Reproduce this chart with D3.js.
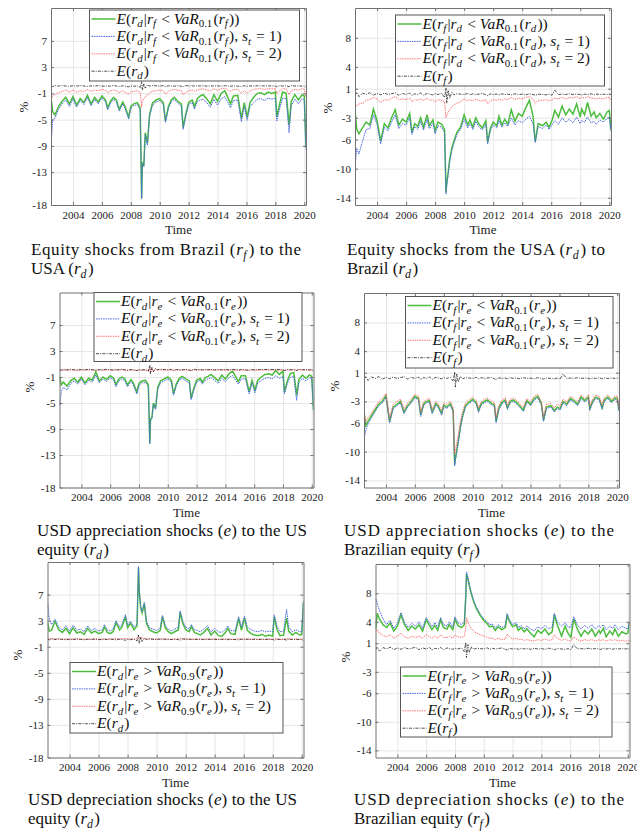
<!DOCTYPE html>
<html>
<head>
<meta charset="utf-8">
<script src="https://cdnjs.cloudflare.com/ajax/libs/d3/7.8.5/d3.min.js"></script>
<style>
  body { margin: 0; background: #fff; }
  svg { display: block; }
  text { font-family: "Liberation Serif", "DejaVu Serif", serif; }
</style>
</head>
<body>
<script>
// sampling dates (decimal years), shared by every series
const dates = [
  2002.50, 2002.60, 2002.75, 2003.00, 2003.25, 2003.50, 2003.75, 2004.00, 2004.25, 2004.50,
  2004.75, 2005.00, 2005.25, 2005.50, 2005.75, 2006.00, 2006.25, 2006.40, 2006.60, 2006.80,
  2007.00, 2007.20, 2007.45, 2007.60, 2007.85, 2008.00, 2008.20, 2008.45, 2008.65, 2008.75,
  2008.80, 2008.90, 2009.00, 2009.15, 2009.30, 2009.50, 2009.75, 2010.00, 2010.25, 2010.40,
  2010.60, 2010.80, 2011.00, 2011.25, 2011.50, 2011.62, 2011.80, 2012.00, 2012.25, 2012.40,
  2012.60, 2012.80, 2013.00, 2013.25, 2013.50, 2013.75, 2014.00, 2014.25, 2014.50, 2014.75,
  2014.90, 2015.10, 2015.40, 2015.65, 2015.85, 2016.05, 2016.25, 2016.50, 2016.75, 2017.00,
  2017.25, 2017.50, 2017.75, 2018.00, 2018.10, 2018.30, 2018.50, 2018.75, 2018.95, 2019.10,
  2019.35, 2019.60, 2019.85, 2020.00, 2020.12
]

// unconditional means E(r_d) (US) and E(r_f) (Brazil)
const usMean = [
  0.15, 0.05, 0.20, 0.10, 0.18, 0.12, 0.08, 0.15, 0.10, 0.20,
  0.12, 0.06, 0.14, 0.10, 0.18, 0.12, 0.08, 0.16, 0.10, 0.20,
  0.12, 0.05, 0.15, 0.10, 0.00, 0.12, 0.08, 0.15, -0.10, 0.80,
  -0.50, 0.50, -0.20, 0.30, 0.10, 0.20, 0.15, 0.10, 0.18, 0.05,
  0.15, 0.12, 0.10, 0.16, 0.08, 0.00, 0.20, 0.12, 0.15, 0.10,
  0.14, 0.12, 0.16, 0.10, 0.14, 0.12, 0.15, 0.10, 0.16, 0.12,
  0.08, 0.14, 0.10, 0.05, 0.15, 0.08, 0.14, 0.12, 0.16, 0.12,
  0.15, 0.13, 0.14, 0.12, 0.00, 0.15, 0.12, 0.16, 0.02, 0.18,
  0.12, 0.15, 0.10, 0.14, -0.10
]
const brMean = [
  0.10, 0.50, -0.10, 0.40, 0.20, 0.45, 0.10, 0.35, 0.15, 0.40,
  0.20, 0.30, 0.45, 0.10, 0.35, 0.20, 0.40, 0.05, 0.30, 0.20,
  0.40, 0.10, 0.35, 0.25, 0.15, 0.30, 0.20, 0.35, -0.20, 1.10,
  -1.00, 0.80, -0.30, 0.50, 0.15, 0.30, 0.25, 0.20, 0.35, 0.15,
  0.30, 0.20, 0.25, 0.35, 0.15, 0.05, 0.30, 0.20, 0.25, 0.15,
  0.30, 0.20, 0.25, 0.15, 0.30, 0.20, 0.25, 0.15, 0.30, 0.20,
  0.10, 0.25, 0.20, 0.15, 0.25, 0.10, 0.80, 0.20, 0.25, 0.20,
  0.30, 0.20, 0.25, 0.20, 0.15, 0.25, 0.20, 0.30, 0.15, 0.25,
  0.20, 0.25, 0.20, 0.25, 0.20
]

// panel 1: Brazil equity shock -> US equity
const p1All = [
  -2.0, -3.8, -4.3, -3.0, -2.2, -1.6, -2.6, -1.5, -2.8, -1.8,
  -2.4, -1.3, -2.6, -1.6, -2.3, -1.4, -2.0, -3.2, -2.2, -1.6,
  -2.0, -3.4, -2.3, -3.0, -4.6, -3.0, -2.6, -2.4, -3.2, -17.0,
  -11.5, -12.0, -7.0, -8.6, -4.2, -2.5, -2.0, -1.8, -2.4, -5.2,
  -3.0, -2.0, -1.6, -2.2, -2.6, -6.2, -4.2, -2.4, -2.0, -3.0,
  -1.8, -1.4, -1.2, -1.8, -2.6, -1.2, -2.2, -1.0, -0.6, -1.8,
  -2.6, -1.4, -1.3, -4.8, -2.4, -4.6, -2.4, -1.6, -1.0, -0.9,
  -1.2, -0.8, -1.0, -0.8, -4.6, -2.6, -0.8, -1.0, -5.8, -2.2,
  -1.2, -2.0, -1.2, -1.4, -9.2
]
const p1S1 = [
  -8.4, -5.0, -4.8, -3.4, -2.6, -2.0, -3.0, -1.8, -3.1, -2.1,
  -2.7, -1.6, -2.9, -1.9, -2.6, -1.7, -2.3, -3.5, -2.5, -1.9,
  -2.3, -3.7, -2.6, -3.3, -4.9, -3.3, -2.9, -2.7, -3.5, -17.0,
  -11.8, -12.2, -7.3, -8.9, -4.5, -2.8, -2.3, -2.1, -2.7, -5.4,
  -3.3, -2.3, -1.9, -2.5, -2.9, -6.5, -4.5, -2.7, -2.4, -3.4,
  -2.3, -2.0, -1.9, -2.4, -3.1, -1.9, -2.8, -1.8, -1.5, -2.5,
  -3.2, -2.1, -2.0, -5.3, -3.0, -5.1, -3.0, -2.4, -1.9, -1.8,
  -2.1, -1.7, -1.9, -1.7, -5.2, -3.3, -1.7, -1.8, -7.0, -2.9,
  -1.9, -2.6, -1.8, -2.0, -9.6
]
const p1S2 = [
  -1.8, -1.4, -1.2, -0.9, -0.7, -0.5, -0.8, -0.5, -0.8, -0.6,
  -0.7, -0.4, -0.7, -0.5, -0.6, -0.4, -0.5, -0.9, -0.6, -0.5,
  -0.6, -0.9, -0.6, -0.8, -1.1, -0.8, -0.7, -0.6, -0.8, -3.1,
  -2.2, -1.8, -1.5, -1.3, -0.9, -0.7, -0.6, -0.5, -0.6, -1.1,
  -0.7, -0.5, -0.4, -0.5, -0.6, -1.2, -0.9, -0.6, -0.5, -0.7,
  -0.5, -0.4, -0.3, -0.5, -0.6, -0.3, -0.5, -0.3, -0.2, -0.5,
  -0.7, -0.4, -0.4, -1.0, -0.6, -1.0, -0.6, -0.4, -0.3, -0.3,
  -0.4, -0.3, -0.3, -0.3, -1.0, -0.6, -0.3, -0.3, -1.2, -0.6,
  -0.4, -0.5, -0.3, -0.4, -1.6
]

// panel 2: US equity shock -> Brazil equity
const p2All = [
  -2.4, -4.6, -5.2, -4.4, -3.6, -4.0, -1.8, -3.4, -6.2, -3.8,
  -4.4, -3.0, -1.9, -4.0, -3.2, -3.6, -2.4, -5.0, -3.8, -4.2,
  -3.0, -4.3, -2.6, -4.1, -3.3, -4.8, -3.6, -3.9, -4.6, -13.2,
  -12.0, -10.5, -8.8, -7.2, -6.2, -5.0, -4.3, -2.6, -4.0, -3.3,
  -4.3, -3.0, -3.8, -4.4, -3.4, -6.4, -4.5, -3.6, -4.1, -2.8,
  -4.0, -3.2, -3.9, -1.9, -3.5, -2.4, -2.8, -1.6, -0.6, -2.8,
  -6.3, -3.8, -4.1, -3.6, -4.3, -3.4, -2.0, -2.9, -1.4, -2.6,
  -1.8, -2.5, -1.1, -2.9, -1.8, -2.6, -0.9, -2.8, -2.2, -3.0,
  -2.4, -3.2, -2.2, -2.0, -4.6
]
const p2S1 = [
  -9.4, -7.2, -8.0, -6.2, -4.6, -4.5, -2.6, -3.9, -6.6, -4.3,
  -4.8, -3.6, -2.6, -4.5, -3.8, -4.0, -3.0, -5.3, -4.2, -4.6,
  -3.5, -4.7, -3.2, -4.5, -3.8, -5.2, -4.1, -4.3, -5.0, -13.5,
  -12.3, -10.8, -9.1, -7.5, -6.5, -5.3, -4.6, -3.2, -4.4, -3.8,
  -4.6, -3.5, -4.2, -4.7, -3.9, -6.6, -4.8, -4.0, -4.4, -3.4,
  -4.3, -3.7, -4.2, -3.0, -4.0, -3.4, -3.7, -3.2, -2.8, -3.8,
  -6.4, -4.2, -4.5, -4.0, -4.6, -4.0, -3.4, -3.9, -3.0, -3.6,
  -3.2, -3.7, -2.9, -3.8, -3.4, -3.6, -2.9, -3.7, -3.5, -3.9,
  -3.3, -3.6, -3.1, -2.9, -4.8
]
const p2S2 = [
  -1.6, -1.3, -1.1, -1.0, -0.6, -0.5, -0.2, -0.4, -0.9, -0.5,
  -0.6, -0.3, -0.1, -0.5, -0.4, -0.5, -0.3, -0.8, -0.5, -0.6,
  -0.4, -0.6, -0.3, -0.6, -0.5, -0.8, -0.5, -0.6, -0.8, -3.0,
  -2.7, -2.3, -1.9, -1.5, -1.2, -1.0, -0.8, -0.4, -0.7, -0.5,
  -0.7, -0.4, -0.6, -0.7, -0.5, -1.1, -0.7, -0.5, -0.6, -0.4,
  -0.6, -0.4, -0.5, -0.2, -0.5, -0.3, -0.4, -0.2, -0.1, -0.4,
  -1.0, -0.6, -0.6, -0.5, -0.7, -0.5, -0.3, -0.4, -0.2, -0.4,
  -0.2, -0.3, -0.1, -0.4, -0.2, -0.3, -0.1, -0.3, -0.3, -0.4,
  -0.3, -0.4, -0.2, -0.2, -0.6
]

// panel 3: USD appreciation -> US equity
const p3All = [
  -1.0, -2.2, -1.8, -2.4, -1.6, -1.2, -1.8, -1.0, -1.9, -1.2,
  -1.5, -0.2, -1.6, -1.0, -1.4, -0.8, -1.2, -2.2, -1.3, -1.0,
  -1.2, -2.2, -1.4, -1.9, -3.3, -2.0, -1.6, -1.5, -2.2, -11.2,
  -7.5, -7.2, -5.0, -5.8, -2.6, -1.6, -1.3, -1.0, -1.5, -3.6,
  -2.0, -1.2, -0.9, -1.3, -1.6, -4.3, -2.8, -1.5, -1.2, -1.8,
  -1.1, -0.9, -0.6, -1.1, -1.6, -0.7, -1.3, -0.5, -0.1, -1.1,
  -1.7, -0.8, -0.8, -3.3, -1.5, -3.0, -1.5, -1.0, -0.6, -0.5,
  -0.7, 0.0, -0.6, -0.1, -3.3, -1.6, -0.5, -0.3, -3.8, -1.4,
  -0.7, -1.2, -0.7, -0.9, -6.0
]
const p3S1 = [
  -5.4, -3.2, -2.6, -3.0, -2.0, -1.6, -2.1, -1.3, -2.2, -1.5,
  -1.8, -0.7, -1.9, -1.3, -1.7, -1.1, -1.5, -2.5, -1.6, -1.3,
  -1.5, -2.5, -1.7, -2.2, -3.6, -2.3, -1.9, -1.8, -2.5, -11.3,
  -7.7, -7.4, -5.2, -6.0, -2.9, -1.9, -1.6, -1.3, -1.8, -3.8,
  -2.3, -1.5, -1.2, -1.6, -1.9, -4.5, -3.1, -1.8, -1.5, -2.1,
  -1.5, -1.3, -1.1, -1.5, -2.0, -1.2, -1.7, -1.1, -0.8, -1.6,
  -2.1, -1.3, -1.3, -3.6, -1.9, -3.4, -1.9, -1.5, -1.2, -1.1,
  -1.3, -0.8, -1.2, -0.9, -3.6, -2.0, -1.1, -0.9, -4.6, -1.9,
  -1.2, -1.6, -1.1, -1.2, -6.3
]
const p3S2 = [
  0.00, 0.05, 0.00, 0.05, 0.08, 0.05, 0.02, 0.08, 0.05, 0.10,
  0.06, 0.02, 0.07, 0.05, 0.08, 0.06, 0.04, 0.08, 0.05, 0.10,
  0.06, 0.02, 0.07, 0.05, 0.00, 0.06, 0.04, 0.07, -0.05, 0.50,
  -0.30, 0.30, -0.10, 0.20, 0.05, 0.10, 0.07, 0.05, 0.08, 0.02,
  0.07, 0.06, 0.05, 0.08, 0.04, 0.00, 0.10, 0.06, 0.07, 0.05,
  0.07, 0.06, 0.08, 0.05, 0.07, 0.06, 0.07, 0.05, 0.08, 0.06,
  0.04, 0.07, 0.05, 0.02, 0.07, 0.04, 0.07, 0.06, 0.08, 0.06,
  0.07, 0.06, 0.07, 0.06, 0.00, 0.07, 0.06, 0.08, 0.01, 0.09,
  0.06, 0.07, 0.05, 0.07, -0.05
]

// panel 4: USD appreciation -> Brazil equity
const p4All = [
  -4.8, -6.4, -5.8, -5.0, -4.2, -3.4, -3.0, -2.2, -5.8, -3.8,
  -3.4, -3.0, -4.5, -3.6, -3.0, -2.3, -2.6, -4.9, -3.4, -3.0,
  -2.9, -4.5, -3.3, -3.6, -4.7, -3.5, -3.8, -3.3, -4.3, -11.8,
  -11.0, -9.8, -8.6, -6.5, -5.0, -3.6, -3.1, -2.7, -3.2, -4.3,
  -3.3, -3.0, -2.8, -3.2, -3.5, -5.8, -4.0, -3.2, -2.8, -3.9,
  -3.0, -2.8, -3.1, -3.6, -4.2, -2.9, -3.4, -2.6, -2.3, -3.3,
  -5.6, -3.8, -3.6, -4.3, -3.8, -4.0, -3.0, -3.4, -2.6, -2.9,
  -3.4, -2.4, -2.9, -2.4, -4.0, -3.0, -2.4, -2.6, -3.9, -2.8,
  -2.4, -3.0, -2.5, -2.6, -4.2
]
const p4S1 = [
  -8.2, -7.0, -6.2, -5.3, -4.4, -3.6, -3.2, -2.4, -6.0, -4.0,
  -3.6, -3.2, -4.7, -3.8, -3.2, -2.5, -2.8, -5.1, -3.6, -3.2,
  -3.1, -4.7, -3.5, -3.8, -4.9, -3.7, -4.0, -3.5, -4.5, -12.0,
  -11.2, -10.0, -8.8, -6.7, -5.2, -3.8, -3.3, -2.9, -3.4, -4.5,
  -3.5, -3.2, -3.0, -3.4, -3.7, -6.0, -4.2, -3.4, -3.0, -4.1,
  -3.2, -3.0, -3.3, -3.8, -4.4, -3.1, -3.6, -2.8, -2.5, -3.5,
  -5.8, -4.0, -3.8, -4.5, -4.0, -4.2, -3.2, -3.6, -2.8, -3.1,
  -3.6, -2.6, -3.1, -2.6, -4.2, -3.2, -2.6, -2.8, -4.1, -3.0,
  -2.6, -3.2, -2.7, -2.8, -4.4
]
const p4S2 = [
  -4.6, -5.8, -5.3, -4.6, -3.8, -3.0, -2.6, -1.9, -5.3, -3.4,
  -3.0, -2.7, -4.1, -3.2, -2.7, -2.0, -2.3, -4.5, -3.1, -2.7,
  -2.6, -4.1, -3.0, -3.3, -4.3, -3.2, -3.4, -3.0, -3.9, -10.3,
  -9.8, -8.8, -7.6, -5.8, -4.4, -3.2, -2.8, -2.4, -2.9, -3.9,
  -3.0, -2.7, -2.5, -2.9, -3.2, -5.2, -3.6, -2.9, -2.5, -3.5,
  -2.7, -2.5, -2.8, -3.3, -3.8, -2.6, -3.1, -2.3, -2.0, -3.0,
  -5.1, -3.4, -3.3, -3.9, -3.4, -3.6, -2.7, -3.1, -2.3, -2.6,
  -3.1, -2.1, -2.6, -2.1, -3.6, -2.7, -2.1, -2.3, -3.5, -2.5,
  -2.1, -2.7, -2.2, -2.3, -3.8
]

// panel 5: USD depreciation -> US equity
const p5All = [
  2.6, 1.4, 1.5, 2.9, 1.6, 1.2, 1.8, 1.0, 1.9, 1.1,
  1.3, 0.9, 1.8, 1.1, 1.4, 1.0, 1.2, 2.0, 1.2, 1.0,
  1.3, 2.7, 1.6, 2.0, 3.6, 1.9, 2.6, 1.6, 2.2, 11.2,
  7.5, 5.0, 4.2, 5.6, 2.6, 1.6, 1.3, 1.1, 1.5, 3.6,
  1.9, 1.3, 1.0, 1.3, 1.6, 4.3, 2.6, 1.6, 1.3, 2.1,
  1.2, 1.0, 0.8, 1.2, 1.8, 0.8, 1.4, 0.7, 0.6, 1.2,
  1.8, 1.0, 0.9, 3.3, 1.5, 3.4, 1.5, 1.0, 0.8, 0.7,
  0.9, 0.6, 0.8, 0.6, 3.6, 1.6, 0.7, 0.8, 3.4, 1.4,
  0.8, 1.2, 0.8, 0.9, 5.8
]
const p5S1 = [
  5.6, 3.4, 2.4, 3.2, 2.0, 1.6, 2.2, 1.4, 2.3, 1.5,
  1.7, 1.3, 2.2, 1.5, 1.8, 1.4, 1.6, 2.4, 1.6, 1.4,
  1.7, 3.0, 2.0, 2.4, 3.9, 2.3, 2.9, 2.0, 2.5, 11.3,
  7.6, 5.2, 4.4, 5.8, 2.9, 1.9, 1.7, 1.5, 1.9, 3.8,
  2.2, 1.7, 1.4, 1.7, 2.0, 4.5, 2.9, 2.0, 1.7, 2.4,
  1.6, 1.5, 1.3, 1.7, 2.2, 1.3, 1.8, 1.3, 1.2, 1.7,
  2.2, 1.5, 1.4, 3.6, 2.0, 3.7, 2.0, 1.6, 1.4, 1.3,
  1.5, 1.3, 1.4, 1.3, 3.9, 2.1, 1.3, 1.4, 4.7, 2.0,
  1.3, 1.6, 1.3, 1.3, 6.0
]
const p5S2 = [
  0.30, 0.20, 0.25, 0.20, 0.22, 0.18, 0.20, 0.15, 0.20, 0.17,
  0.20, 0.15, 0.20, 0.17, 0.19, 0.15, 0.18, 0.22, 0.18, 0.15,
  0.18, 0.24, 0.20, 0.22, 0.28, 0.20, 0.24, 0.20, 0.22, 0.60,
  0.45, 0.35, 0.35, 0.25, 0.22, 0.20, 0.18, 0.17, 0.20, 0.26,
  0.20, 0.18, 0.16, 0.18, 0.20, 0.28, 0.22, 0.20, 0.18, 0.20,
  0.17, 0.16, 0.15, 0.17, 0.20, 0.15, 0.18, 0.15, 0.14, 0.17,
  0.20, 0.16, 0.15, 0.24, 0.18, 0.24, 0.18, 0.16, 0.15, 0.14,
  0.15, 0.14, 0.15, 0.14, 0.26, 0.18, 0.14, 0.15, 0.26, 0.17,
  0.15, 0.16, 0.15, 0.15, 0.30
]

// panel 6: USD depreciation -> Brazil equity
const p6All = [
  3.0, 5.2, 4.4, 3.6, 3.2, 3.8, 2.7, 3.4, 5.0, 3.6,
  2.8, 3.4, 3.0, 3.6, 2.7, 4.3, 3.4, 2.9, 3.5, 2.8,
  4.3, 3.2, 3.0, 3.6, 2.9, 4.4, 3.5, 3.2, 3.6, 7.5,
  10.7, 10.0, 9.0, 7.8, 6.8, 5.8, 4.9, 4.2, 3.7, 3.3,
  3.4, 2.8, 3.3, 2.9, 3.2, 4.9, 4.0, 3.3, 3.6, 2.8,
  3.2, 2.6, 3.0, 2.4, 1.9, 2.8, 2.4, 3.0, 2.2, 2.6,
  5.0, 3.6, 2.0, 3.4, 2.4, 1.8, 4.4, 3.0, 2.0, 2.8,
  2.3, 3.0, 2.0, 2.8, 2.4, 3.1, 1.9, 2.7, 2.2, 3.0,
  2.0, 2.6, 2.3, 2.4, 3.9
]
const p6S1 = [
  7.2, 6.6, 5.6, 4.4, 3.6, 4.2, 3.1, 3.8, 5.3, 3.9,
  3.2, 3.8, 3.4, 4.0, 3.1, 4.6, 3.8, 3.3, 3.9, 3.2,
  4.6, 3.6, 3.4, 4.0, 3.3, 4.7, 3.9, 3.6, 4.0, 7.8,
  11.0, 10.2, 9.2, 8.0, 7.0, 6.0, 5.1, 4.4, 4.0, 3.6,
  3.7, 3.1, 3.6, 3.2, 3.5, 5.1, 4.2, 3.6, 3.9, 3.2,
  3.5, 3.0, 3.4, 3.0, 2.7, 3.3, 3.0, 3.5, 3.0, 3.3,
  5.2, 4.0, 3.4, 3.9, 3.3, 3.2, 4.7, 3.6, 3.0, 3.5,
  3.1, 3.6, 3.0, 3.5, 3.2, 3.6, 2.9, 3.4, 3.1, 3.6,
  2.9, 3.4, 3.1, 3.0, 4.1
]
const p6S2 = [
  2.6, 2.9, 2.4, 2.1, 1.9, 2.2, 1.7, 2.0, 2.4, 1.9,
  1.7, 2.0, 1.8, 2.0, 1.7, 2.2, 1.9, 1.7, 2.0, 1.7,
  2.2, 1.8, 1.8, 2.0, 1.7, 2.2, 1.9, 1.8, 2.0, 3.2,
  4.6, 4.0, 3.5, 3.0, 2.7, 2.4, 2.2, 2.0, 1.8, 1.7,
  1.7, 1.5, 1.7, 1.5, 1.6, 2.3, 1.9, 1.6, 1.7, 1.5,
  1.6, 1.4, 1.5, 1.4, 1.3, 1.5, 1.4, 1.6, 1.4, 1.5,
  2.2, 1.7, 1.4, 1.6, 1.4, 1.3, 1.9, 1.5, 1.3, 1.5,
  1.4, 1.5, 1.3, 1.5, 1.4, 1.5, 1.3, 1.5, 1.4, 1.5,
  1.3, 1.4, 1.3, 1.3, 1.4
]

// axes
const xDomain = [2002.48, 2020.12]
const yearTicks = [2004, 2006, 2008, 2010, 2012, 2014, 2016, 2018, 2020]
const usTicks = [-18, -13, -9, -5, -1, 3, 7]
const brTicks = [-14, -10, -6, -3, 1, 4, 8]
const usDomain = [-18, 12]
const brDomain = [-15, 12.1]

// legend and caption texts ($...$ = math, _ = subscript)
const legend1 = ['$E(r_d|r_f < VaR_{0.1}(r_f))$', '$E(r_d|r_f < VaR_{0.1}(r_f), s_t = 1)$', '$E(r_d|r_f < VaR_{0.1}(r_f), s_t = 2)$', '$E(r_d)$']
const legend2 = ['$E(r_f|r_d < VaR_{0.1}(r_d))$', '$E(r_f|r_d < VaR_{0.1}(r_d), s_t = 1)$', '$E(r_f|r_d < VaR_{0.1}(r_d), s_t = 2)$', '$E(r_f)$']
const legend3 = ['$E(r_d|r_e < VaR_{0.1}(r_e))$', '$E(r_d|r_e < VaR_{0.1}(r_e), s_t = 1)$', '$E(r_d|r_e < VaR_{0.1}(r_e), s_t = 2)$', '$E(r_d)$']
const legend4 = ['$E(r_f|r_e < VaR_{0.1}(r_e))$', '$E(r_f|r_e < VaR_{0.1}(r_e), s_t = 1)$', '$E(r_f|r_e < VaR_{0.1}(r_e), s_t = 2)$', '$E(r_f)$']
const legend5 = ['$E(r_d|r_e > VaR_{0.9}(r_e))$', '$E(r_d|r_e > VaR_{0.9}(r_e), s_t = 1)$', '$E(r_d|r_e > VaR_{0.9}(r_e)), s_t = 2)$', '$E(r_d)$']
const legend6 = ['$E(r_f|r_e > VaR_{0.9}(r_e))$', '$E(r_f|r_e > VaR_{0.9}(r_e), s_t = 1)$', '$E(r_f|r_e > VaR_{0.9}(r_e)), s_t = 2)$', '$E(r_f)$']
const captions = [
  ['Equity shocks from Brazil ($r_f$) to the', 'USA ($r_d$)'],
  ['Equity shocks from the USA ($r_d$) to', 'Brazil ($r_d$)'],
  ['USD appreciation shocks ($e$) to the US', 'equity ($r_d$)'],
  ['USD appreciation shocks ($e$) to the', 'Brazilian equity ($r_f$)'],
  ['USD depreciation shocks ($e$) to the US', 'equity ($r_d$)'],
  ['USD depreciation shocks ($e$) to the', 'Brazilian equity ($r_f$)']
]

const styles = [
  { color: '#4cbc3e', width: 1.5, dash: null },
  { color: '#4565e0', width: 1.0, dash: '1.5,0.9' },
  { color: '#ff5252', width: 0.8, dash: '1.5,0.9' },
  { color: '#000', width: 0.7, dash: '3,1.2,1,1.2' }
]

// layout: plot box [left, top, right, bottom], legend [x, y, w, h]
const panels = [
  { box: [51, 8, 306, 205], yDomain: usDomain, ticks: usTicks, series: [p1All, p1S1, p1S2, usMean], labels: legend1,
    legend: [89.5, 10, 210, 71], ylab: [23, 107], cap: [31, 255, 270] },
  { box: [355, 8, 611, 205], yDomain: brDomain, ticks: brTicks, series: [p2All, p2S1, p2S2, brMean], labels: legend2,
    legend: [395.5, 15, 209, 71], ylab: [327, 108], cap: [347, 255, 258] },
  { box: [59.5, 292.5, 313.5, 487.5], yDomain: usDomain, ticks: usTicks, series: [p3All, p3S1, p3S2, usMean], labels: legend3,
    legend: [94, 292.5, 208, 69], ylab: [29, 387], cap: [37, 536, 270] },
  { box: [364, 293, 619, 487.5], yDomain: brDomain, ticks: brTicks, series: [p4All, p4S1, p4S2, brMean], labels: legend4,
    legend: [405.5, 296.5, 207.5, 71.5], ylab: [334, 386], cap: [344, 536, 270] },
  { box: [47.5, 562, 303.5, 757.5], yDomain: usDomain, ticks: usTicks, series: [p5All, p5S1, p5S2, usMean], labels: legend5,
    legend: [70, 662.5, 213, 70.5], ylab: [17, 655], cap: [28, 805, 269] },
  { box: [375.5, 564, 629.5, 757.5], yDomain: brDomain, ticks: brTicks, series: [p6All, p6S1, p6S2, brMean], labels: legend6,
    legend: [400.5, 667, 211.5, 70], ylab: [345, 657], cap: [354, 805, 270] }
]

const serif = '"Liberation Serif", "DejaVu Serif", serif'

const svg = d3.select('body').append('svg')
  .attr('width', 637)
  .attr('height', 835)
  .attr('font-family', serif)

// split a string into runs: upright / italic math letters / subscripts
function runs(str) {
  const out = []
  let math = false
  let i = 0
  while (i < str.length) {
    const c = str[i]
    if (c === '$') { math = !math; i++; continue }
    if (math && c === '_') {
      let s
      if (str[i + 1] === '{') {
        const j = str.indexOf('}', i)
        s = str.slice(i + 2, j)
        i = j + 1
      } else {
        s = str[i + 1]
        i += 2
      }
      out.push({ t: s, it: /[a-z]/i.test(s), sub: true })
      continue
    }
    out.push({ t: c, it: math && /[A-Za-z]/.test(c), sub: false })
    i++
  }
  const merged = []
  out.forEach(r => {
    const last = merged[merged.length - 1]
    if (last && last.it === r.it && last.sub === r.sub && !r.sub) last.t += r.t
    else merged.push({ ...r })
  })
  return merged
}

function richText(text, str, size) {
  const shift = size * 0.24
  let down = false
  runs(str).forEach(r => {
    const ts = text.append('tspan')
      .text(r.t)
      .attr('font-style', r.it ? 'italic' : 'normal')
    if (r.sub) {
      ts.attr('font-size', size * 0.7)
      if (!down) { ts.attr('dy', shift); down = true }
    } else if (down) {
      // back to the baseline, with a little italic correction
      ts.attr('dy', -shift).attr('dx', size * 0.08)
      down = false
    }
  })
}

function applyStyle(sel, s) {
  sel.attr('fill', 'none')
    .attr('stroke', s.color)
    .attr('stroke-width', s.width)
    .attr('stroke-dasharray', s.dash)
}

panels.forEach((p, pi) => {
  const [L, T, R, B] = p.box
  const x = d3.scaleLinear().domain(xDomain).range([L, R])
  const y = d3.scaleLinear().domain(p.yDomain).range([B, T])
  const g = svg.append('g')

  // light grid
  g.append('g')
    .attr('transform', `translate(0,${B})`)
    .call(d3.axisBottom(x).tickValues(yearTicks).tickSize(-(B - T)).tickFormat(''))
    .call(a => a.select('.domain').remove())
    .call(a => a.selectAll('line').attr('stroke', '#e6e6e6'))
  g.append('g')
    .attr('transform', `translate(${L},0)`)
    .call(d3.axisLeft(y).tickValues(p.ticks).tickSize(-(R - L)).tickFormat(''))
    .call(a => a.select('.domain').remove())
    .call(a => a.selectAll('line').attr('stroke', '#e6e6e6'))

  // series
  g.append('clipPath').attr('id', 'clip' + pi)
    .append('rect').attr('x', L).attr('y', T).attr('width', R - L).attr('height', B - T)
  const line = d3.line().x((d, i) => x(dates[i])).y(d => y(d))
  p.series.forEach((s, si) => {
    g.append('path')
      .datum(s)
      .attr('d', line)
      .attr('clip-path', `url(#clip${pi})`)
      .call(applyStyle, styles[si])
  })

  // frame with inward ticks
  const axisColor = '#727272'
  const frame = (axis, tr) => g.append('g')
    .attr('transform', tr)
    .call(axis)
    .attr('font-family', serif)
    .attr('font-size', 11)
    .call(a => a.select('.domain').attr('stroke', axisColor))
    .call(a => a.selectAll('.tick line').attr('stroke', axisColor))
    .call(a => a.selectAll('text').attr('fill', '#222'))

  frame(d3.axisBottom(x).tickValues(yearTicks).tickFormat(d => String(d)).tickSizeInner(-3).tickSizeOuter(0).tickPadding(6), `translate(0,${B})`)
  frame(d3.axisTop(x).tickValues(yearTicks).tickFormat('').tickSizeInner(-3).tickSizeOuter(0), `translate(0,${T})`)
  frame(d3.axisLeft(y).tickValues(p.ticks).tickFormat(d => String(d)).tickSizeInner(-3).tickSizeOuter(0).tickPadding(4), `translate(${L},0)`)
  frame(d3.axisRight(y).tickValues(p.ticks).tickFormat('').tickSizeInner(-3).tickSizeOuter(0), `translate(${R},0)`)

  g.append('text')
    .attr('x', (L + R) / 2)
    .attr('y', B + 29)
    .attr('text-anchor', 'middle')
    .attr('font-size', 13)
    .attr('fill', '#222')
    .text('Time')

  g.append('text')
    .attr('transform', `translate(${p.ylab[0]},${p.ylab[1]}) rotate(-90)`)
    .attr('text-anchor', 'middle')
    .attr('dy', '0.35em')
    .attr('font-size', 13)
    .attr('fill', '#222')
    .text('%')

  // legend
  const [lx, ly, lw, lh] = p.legend
  const lg = g.append('g').attr('transform', `translate(${lx},${ly})`)
  lg.append('rect')
    .attr('width', lw)
    .attr('height', lh)
    .attr('fill', '#fff')
    .attr('stroke', '#555')
    .attr('stroke-width', 1)
  p.labels.forEach((lab, i) => {
    const cy = 9 + i * 17.4
    lg.append('line')
      .attr('x1', 2).attr('x2', 26)
      .attr('y1', cy).attr('y2', cy)
      .call(applyStyle, styles[i])
    const t = lg.append('text')
      .attr('x', 27)
      .attr('y', cy + 4.5)
      .attr('font-size', 15.5)
      .attr('fill', '#111')
    richText(t, lab, 15.5)
  })

  // caption, first line justified
  const [cx, cyy, cw] = p.cap
  captions[pi].forEach((lineStr, i) => {
    const t = svg.append('text')
      .attr('x', cx)
      .attr('y', cyy + i * 19)
      .attr('font-size', 17)
      .attr('fill', '#111')
    richText(t, lineStr, 17)
    if (i === 0) t.attr('textLength', cw).attr('lengthAdjust', 'spacing')
  })
})
</script>
</body>
</html>
